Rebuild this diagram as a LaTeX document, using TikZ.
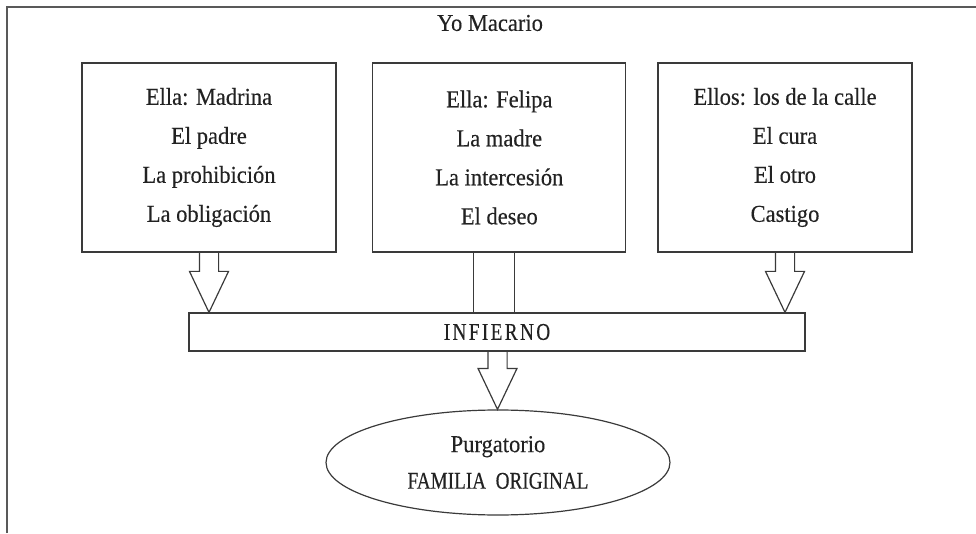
\documentclass[tikz,border=0pt]{standalone}
\usepackage{fontspec}
\setmainfont[FakeStretch=0.93, FakeBold=0.3]{Liberation Serif}
\newfontfamily\capsfont[FakeStretch=0.8, FakeBold=0.3]{Liberation Serif}
\newfontfamily\spacedfont[FakeStretch=0.8, FakeBold=0.3, LetterSpace=10]{Liberation Serif}
\usetikzlibrary{shapes.geometric,calc}
\definecolor{ink}{HTML}{222222}
\definecolor{edge}{HTML}{3A3A3A}
\begin{document}
\begin{tikzpicture}[x=1pt,y=1pt,
  boxtext/.style={font=\fontsize{24.2}{39}\selectfont, text=ink, align=center},
  bigbox/.style={draw=edge, line width=1.2pt, minimum width=254pt, minimum height=189pt, inner sep=0pt, boxtext},
  outline/.style={draw=edge, line width=1.2pt, line join=miter},
  framerule/.style={draw=black!65, line width=2pt}
]
\useasboundingbox (0,0) rectangle (976,533);
% frame (top and left rules)
\draw[framerule] (7,0) -- (7,526) -- (976,526);

\node[boxtext] (title) at (490,510) {Yo Macario};

\node[bigbox] (lbox) at (209,375.5) {Ella: Madrina\\El padre\\La prohibición\\La obligación};
\node[bigbox, minimum width=253pt] (mbox) at (499.3,375.5) {Ella: Felipa\\La madre\\La intercesión\\El deseo};
\node[bigbox] (rbox) at (785,375.5) {Ellos: los de la calle\\El cura\\El otro\\Castigo};

\node[draw=edge, line width=1.2pt, minimum width=616pt, minimum height=38pt, inner sep=0pt,
      text=ink, font=\spacedfont\fontsize{24}{26}\selectfont] (inf) at (497,201) {INFIERNO};

\node[ellipse, draw=edge, line width=1.2pt, minimum width=344pt, minimum height=105pt, inner sep=0pt,
      text=ink, align=center, font=\fontsize{24.2}{36.6}\selectfont] (ell) at (498,70.5)
      {Purgatorio\\{\capsfont\fontsize{24}{26}\selectfont FAMILIA\ \ ORIGINAL}};

% block arrows
\newcommand\blockarrow[2]{%
  \path[outline] let \p1=(#1), \p2=(#2) in
    (\x1-9.6pt,\y1) -- (\x1-9.6pt,\y2+41pt) -- (\x1-19.5pt,\y2+41pt) -- (\x2,\y2)
    -- (\x1+19.5pt,\y2+41pt) -- (\x1+9.6pt,\y2+41pt) -- (\x1+9.6pt,\y1);}
\coordinate (la) at (lbox.south);
\coordinate (lt) at (lbox.south |- inf.north);
\blockarrow{la}{lt}
\coordinate (ra) at (rbox.south);
\coordinate (rt) at (rbox.south |- inf.north);
\blockarrow{ra}{rt}
\coordinate (ba) at ([xshift=0.5pt]inf.south);
\coordinate (bt) at ([xshift=0.5pt]inf.south |- ell.north);
\blockarrow{ba}{bt}

% middle connector (two parallel lines)
\draw[outline] ([xshift=-26pt]mbox.south) -- ([xshift=-26pt]mbox.south |- inf.north);
\draw[outline] ([xshift=15pt]mbox.south) -- ([xshift=15pt]mbox.south |- inf.north);
\end{tikzpicture}
\end{document}
